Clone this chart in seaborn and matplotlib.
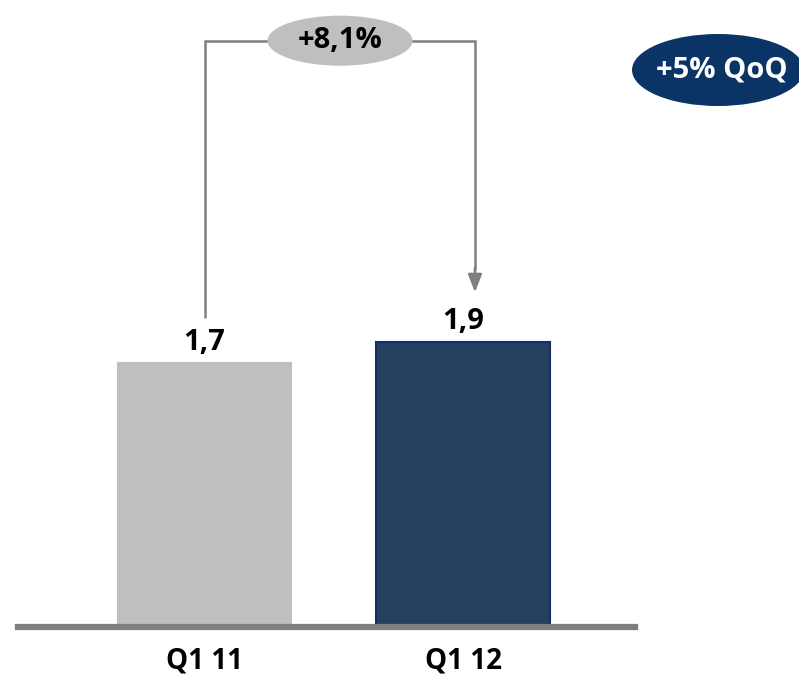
import numpy as np
import pandas as pd
import seaborn as sns
import matplotlib.pyplot as plt
from matplotlib.patches import Ellipse

# values (bar heights differ by ~8,1%)
quarters = ['Q1 11', 'Q1 12']
revenue = [1.72, 1.86]
value_labels = ['1,7', '1,9']
growth_label = '+8,1%'
qoq_label = '+5% QoQ'

bar_colors = ['#BFBFBF', '#243F60']
edge_colors = ['#BFBFBF', '#0F2F66']
line_gray = '#7F7F7F'

sns.set_theme(style='white')
plt.rcParams['font.family'] = ['Open Sans', 'DejaVu Sans']
plt.rcParams['font.weight'] = 'bold'

df = pd.DataFrame({'quarter': quarters, 'revenue': revenue})

fig = plt.figure(figsize=(7.99, 6.76), dpi=100)
ax = fig.add_axes([18 / 799, 49 / 676, 617 / 799, 627 / 676])

sns.barplot(data=df, x='quarter', y='revenue', hue='quarter', palette=bar_colors,
            width=0.67, legend=False, ax=ax, saturation=1)
for patch, ec in zip(ax.patches, edge_colors):
    patch.set_edgecolor(ec)
    patch.set_linewidth(1.5)

ax.set_xlim(-0.7215, 1.665)
ax.set_ylim(0, 4.085)

# value labels above bars
for i, (v, lab) in enumerate(zip(revenue, value_labels)):
    ax.annotate(lab, (i, v), xytext=(0, 4), textcoords='offset points',
                ha='center', va='bottom', fontsize=21, fontweight='bold', color='black')

# axis styling
sns.despine(ax=ax, left=True, top=True, right=True, bottom=False)
ax.spines['bottom'].set_color(line_gray)
ax.spines['bottom'].set_linewidth(4.5)
ax.set_yticks([])
ax.set_xlabel('')
ax.set_ylabel('')
ax.tick_params(axis='x', length=0, pad=14, labelsize=20)
for t in ax.get_xticklabels():
    t.set_fontweight('bold')
    t.set_color('black')

# growth bracket from bar 1 to bar 2
top_y = 3.82
left_x = 0
right_x = 1.046
start_y = revenue[0] + 0.3
arrow_y = revenue[1] + 0.32
ax.plot([left_x, left_x, right_x, right_x], [start_y, top_y, top_y, arrow_y + 0.15],
        color=line_gray, lw=1.8, solid_joinstyle='miter', clip_on=False)
ax.annotate('', xy=(right_x, arrow_y), xytext=(right_x, arrow_y + 0.16),
            arrowprops=dict(arrowstyle='-|>,head_length=0.9,head_width=0.35',
                            color=line_gray, lw=1.8, shrinkA=0, shrinkB=0))

mid_x = 0.524
ax.add_patch(Ellipse((mid_x, top_y), 0.561, 0.326, facecolor='#BFBFBF',
                     edgecolor='none', zorder=3, clip_on=False))
ax.text(mid_x, top_y, growth_label, ha='center', va='center', fontsize=21,
        fontweight='bold', color='black', zorder=4)

# QoQ badge, partially out of frame on the right
qx, qy = 718 / 799, 1 - 70 / 676
fig.patches.append(Ellipse((qx, qy), 172 / 799, 72 / 676, facecolor='#0A3466',
                           edgecolor='none', transform=fig.transFigure))
fig.text(qx + 4 / 799, qy, qoq_label, ha='center', va='center', fontsize=21,
         fontweight='bold', color='white')

fig.savefig('out.png', dpi=100)
